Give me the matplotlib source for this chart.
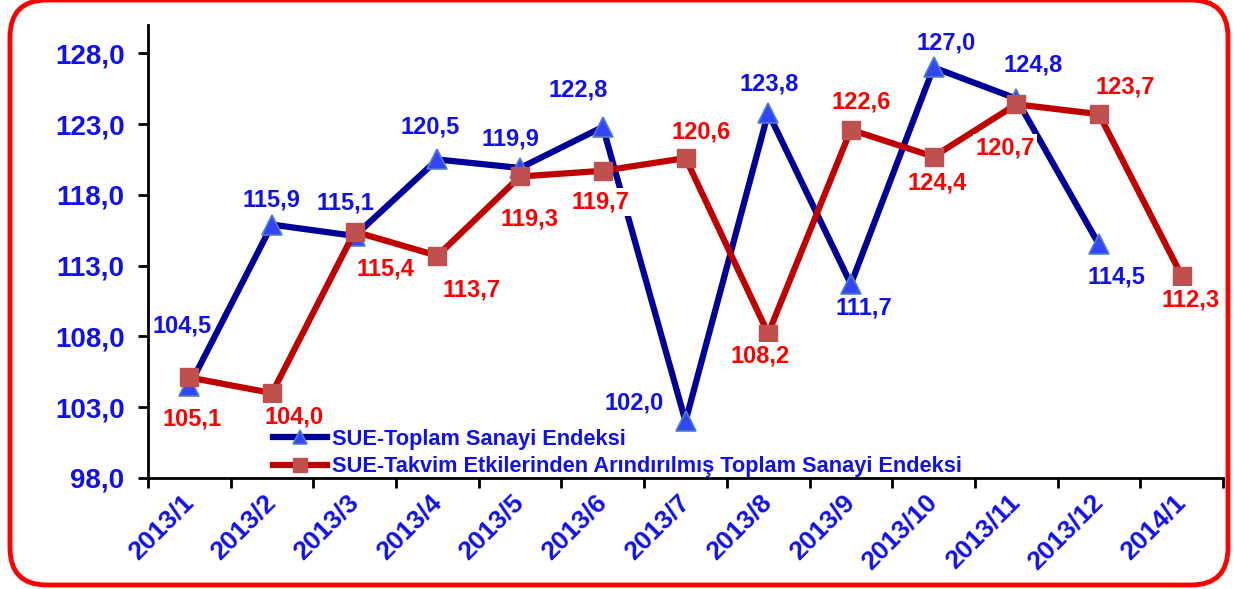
import matplotlib
matplotlib.use("Agg")
import matplotlib.pyplot as plt
from matplotlib.patches import FancyBboxPatch
import numpy as np

plt.rcParams['font.family'] = ['Liberation Sans', 'DejaVu Sans']

months = ["2013/1", "2013/2", "2013/3", "2013/4", "2013/5", "2013/6", "2013/7",
          "2013/8", "2013/9", "2013/10", "2013/11", "2013/12", "2014/1"]
toplam = [104.5, 115.9, 115.1, 120.5, 119.9, 122.8, 102.0,
          123.8, 111.7, 127.0, 124.8, 114.5]
takvim = [105.1, 104.0, 115.4, 113.7, 119.3, 119.7, 120.6,
          108.2, 122.6, 120.7, 124.4, 123.7, 112.3]
# labels as they appear on the chart (Oct/Nov red labels are swapped in the source)
takvim_text = ["105,1", "104,0", "115,4", "113,7", "119,3", "119,7", "120,6",
               "108,2", "122,6", "124,4", "120,7", "123,7", "112,3"]
yticks = [98, 103, 108, 113, 118, 123, 128]

# label offsets in pixels (dx, dy up)
blue_off = [(-7, 60), (-1, 25), (-9, 33), (-7, 32), (-10, 29), (-25, 37), (-51, 18),
            (1, 29), (13, -24), (13, 24), (17, 34), (17, -33)]
red_off = [(3, -42), (22, -24), (31, -37), (34, -34), (9, -43), (-2, -31), (16, 26),
           (-8, -22), (10, 28), (4, -26), (-11, -44), (26, 27), (9, -24)]

BLUE_TXT = "#1010F0"
RED_TXT = "#FF0000"
px = 72 / 100

fig = plt.figure(figsize=(12.34, 5.89), dpi=100)
fig.patches.append(FancyBboxPatch((10 / 1234, 4 / 589), 1218 / 1234, 585 / 589,
                                  boxstyle="round,pad=0,rounding_size=0.03",
                                  transform=fig.transFigure, fill=False,
                                  edgecolor="#FF0000", linewidth=3.5, mutation_aspect=2.1))

ax = fig.add_axes([148 / 1234, 111 / 589, 1075 / 1234, 453 / 589])
x = np.arange(len(months))

ax.plot(x[:len(toplam)], toplam, color="#000099", lw=4.5, marker="^", ms=14,
        mfc="#3344FF", mec="#4F81BD", mew=1.2, label="SUE-Toplam Sanayi Endeksi", zorder=3)
ax.plot(x, takvim, color="#C00000", lw=4.5, marker="s", ms=13.5,
        mfc="#C0504D", mec="#C0504D", mew=1,
        label="SUE-Takvim Etkilerinden Arındırılmış Toplam Sanayi Endeksi", zorder=4)

for i, v in enumerate(toplam):
    dx, dy = blue_off[i]
    ax.annotate(f"{v:.1f}".replace(".", ","), (x[i], v), xytext=(dx * px, dy * px),
                textcoords="offset points", ha="center", va="center", fontsize=17,
                fontweight="bold", color=BLUE_TXT, zorder=5)
for i, v in enumerate(takvim):
    dx, dy = red_off[i]
    ax.annotate(takvim_text[i], (x[i], v), xytext=(dx * px, dy * px),
                textcoords="offset points", ha="center", va="center", fontsize=17,
                fontweight="bold", color=RED_TXT, zorder=5,
                bbox=dict(boxstyle="square,pad=0.1", fc="white", ec="none"))

ax.set_xlim(-0.5, len(months) - 0.5)
ax.set_ylim(98, 130)
ax.set_yticks(yticks)
ax.set_yticklabels([f"{t:.1f}".replace(".", ",") for t in yticks],
                   fontsize=20, fontweight="bold", color=BLUE_TXT)
ax.set_xticks(x)
ax.set_xticklabels(months, rotation=45, ha="right", va="center", rotation_mode="anchor",
                   fontsize=19, fontweight="bold", color=BLUE_TXT)
ax.set_xticks(np.arange(len(months) + 1) - 0.5, minor=True)
ax.tick_params(axis="x", which="major", length=0, pad=15)
ax.tick_params(axis="x", which="minor", length=7, width=2, direction="out")
ax.tick_params(axis="y", length=7, width=2, direction="out", pad=10)

for s in ["top", "right"]:
    ax.spines[s].set_visible(False)
for s in ["left", "bottom"]:
    ax.spines[s].set_linewidth(2)

leg = ax.legend(loc="upper left", bbox_to_anchor=(116 / 1075, 58 / 453), frameon=False,
                handlelength=2.5, handletextpad=0.2, labelspacing=0.3, borderaxespad=0,
                markerscale=0.75, prop=dict(size=15.7, weight="bold"))
leg.set_zorder(6)
for t in leg.get_texts():
    t.set_color(BLUE_TXT)

fig.savefig("out.png", dpi=100)
